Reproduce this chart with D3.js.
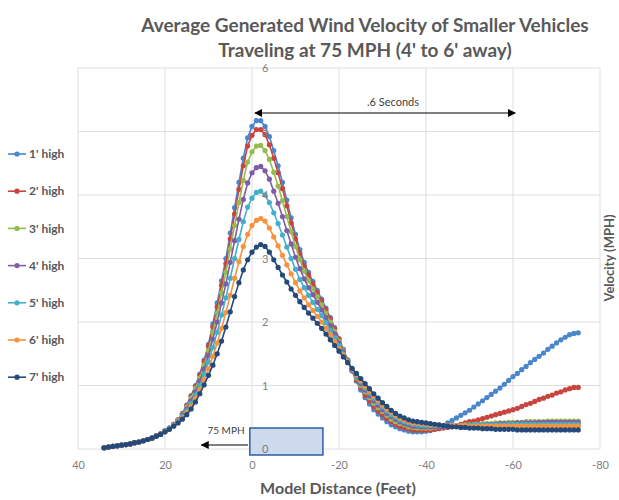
<!DOCTYPE html>
<html>
<head>
<meta charset="utf-8">
<script src="https://cdn.jsdelivr.net/npm/d3@7"></script>
<style>
  body { margin: 0; background: #fff; }
  text { font-family: Lato, "Open Sans", sans-serif; }
</style>
</head>
<body>
<div id="chart"></div>
<script>
// distance in feet (x), one reading per foot
var distances = [34,33,32,31,30,29,28,27,26,25,24,23,22,21,20,19,18,17,16,15,14,13,12,11,10,9,8,7,6,5,4,3,2,1,0,
  -1,-2,-3,-4,-5,-6,-7,-8,-9,-10,-11,-12,-13,-14,-15,-16,-17,-18,-19,-20,-21,-22,
  -23,-24,-25,-26,-27,-28,-29,-30,-31,-32,-33,-34,-35,-36,-37,-38,-39,-40,-41,-42,
  -43,-44,-45,-46,-47,-48,-49,-50,-51,-52,-53,-54,-55,-56,-57,-58,-59,-60,-61,-62,-63,-64,-65,-66,-67,-68,-69,-70,-71,-72,-73,-74,-75];

var seriesNames = ["1' high", "2' high", "3' high", "4' high", "5' high", "6' high", "7' high"];
var seriesColors = ["#4a86cc", "#c9443f", "#94bc4f", "#7e5da6", "#43afc9", "#f7923e", "#244a7c"];

var high1 = [.02,.03,.04,.05,.06,.07,.08,.10,.11,.13,.15,.17,
  .21,.24,.29,.33,.39,.46,
  .56,.69,.84,1.00,1.18,1.40,1.65,1.97,2.30,2.65,3.00,3.40,3.80,4.20,4.58,4.90,5.08,
  5.17,5.17,5.08,4.92,4.70,4.46,4.20,3.92,3.64,3.38,3.14,2.94,2.78,2.64,2.50,2.36,2.22,2.07,1.91,1.74,1.57,1.40,
  1.23,1.07,.93,.81,.71,.62,.55,.49,.43,.38,.35,.32,.30,.28,.27,.27,.27,.28,.29,.31,
  .34,.37,.41,.45,.49,.53,.57,.61,.66,.71,.76,.81,.86,.91,.96,1.02,1.08,1.14,1.19,1.25,1.30,1.36,1.41,1.46,1.51,1.57,1.62,1.67,1.72,1.76,1.80,1.82,1.83];

var high2 = [.02,.03,.04,.05,.06,.07,.08,.10,.11,.13,.15,.17,
  .21,.24,.29,.33,.39,.46,
  .55,.68,.83,.98,1.16,1.37,1.62,1.92,2.24,2.58,2.92,3.31,3.70,4.09,4.46,4.77,4.94,
  5.03,5.03,4.95,4.79,4.58,4.35,4.10,3.83,3.56,3.31,3.08,2.89,2.74,2.60,2.46,2.33,2.19,2.05,1.89,1.73,1.56,1.40,
  1.24,1.09,.97,.85,.76,.67,.60,.54,.48,.43,.39,.36,.34,.32,.30,.30,.30,.30,.30,.31,
  .32,.33,.34,.36,.37,.39,.41,.43,.44,.46,.48,.50,.52,.54,.56,.58,.60,.62,.64,.67,.70,.72,.75,.78,.80,.83,.85,.88,.90,.93,.95,.97,.97];

var high3 = [.02,.03,.04,.05,.06,.07,.08,.10,.11,.13,.15,.17,
  .21,.24,.29,.33,.38,.45,
  .54,.66,.80,.95,1.12,1.32,1.55,1.84,2.14,2.46,2.78,3.15,3.52,3.88,4.23,4.52,4.68,
  4.77,4.78,4.70,4.56,4.36,4.14,3.91,3.66,3.42,3.19,2.98,2.80,2.65,2.52,2.40,2.27,2.14,2.00,1.85,1.70,1.55,1.39,
  1.25,1.12,1.00,.90,.81,.72,.65,.59,.53,.47,.43,.40,.38,.35,.34,.33,.33,.33,.33,.34,
  .35,.35,.36,.36,.37,.37,.38,.38,.39,.39,.40,.40,.40,.41,.41,.41,.42,.42,.42,.42,.43,.43,.43,.43,.43,.44,.44,.44,.44,.44,.44,.44,.44];

var high4 = [.02,.03,.04,.05,.06,.07,.08,.10,.11,.13,.15,.17,
  .21,.24,.28,.32,.38,.44,
  .53,.63,.76,.90,1.07,1.26,1.47,1.73,2.00,2.30,2.60,2.94,3.28,3.62,3.93,4.19,4.35,
  4.43,4.45,4.38,4.25,4.06,3.87,3.66,3.44,3.23,3.02,2.84,2.68,2.54,2.43,2.31,2.19,2.07,1.94,1.81,1.67,1.53,1.39,
  1.25,1.14,1.03,.93,.84,.76,.69,.62,.56,.51,.47,.43,.40,.38,.36,.36,.35,.35,.35,.35,
  .35,.35,.36,.36,.36,.37,.37,.37,.38,.38,.38,.39,.39,.39,.40,.40,.40,.40,.41,.41,.41,.41,.41,.42,.42,.42,.42,.42,.42,.42,.42,.42,.42];

var high5 = [.02,.03,.04,.05,.06,.07,.08,.10,.11,.13,.15,.17,
  .20,.23,.28,.32,.37,.43,
  .51,.60,.72,.85,1.00,1.18,1.37,1.60,1.84,2.11,2.38,2.69,3.00,3.30,3.58,3.81,3.95,
  4.04,4.06,4.00,3.88,3.72,3.55,3.37,3.18,3.00,2.83,2.67,2.54,2.42,2.31,2.20,2.10,1.99,1.87,1.75,1.63,1.50,1.38,
  1.26,1.15,1.06,.96,.88,.80,.73,.66,.60,.54,.50,.46,.43,.41,.39,.38,.37,.37,.37,.37,
  .37,.37,.37,.37,.37,.37,.37,.38,.38,.38,.38,.38,.38,.38,.38,.38,.39,.39,.39,.39,.39,.39,.39,.39,.39,.39,.39,.39,.39,.39,.39,.39,.39];

var high6 = [.02,.03,.04,.05,.06,.07,.08,.10,.11,.13,.15,.17,
  .20,.23,.27,.31,.37,.42,
  .49,.57,.67,.79,.93,1.09,1.26,1.46,1.67,1.90,2.15,2.42,2.69,2.95,3.19,3.38,3.52,
  3.60,3.63,3.59,3.48,3.34,3.20,3.05,2.90,2.76,2.62,2.49,2.38,2.27,2.18,2.09,2.00,1.90,1.80,1.69,1.58,1.48,1.37,
  1.26,1.17,1.08,.99,.91,.83,.76,.69,.63,.58,.53,.49,.46,.43,.41,.41,.40,.39,.38,.38,
  .38,.37,.37,.37,.37,.37,.37,.36,.36,.36,.36,.36,.36,.36,.36,.36,.36,.36,.36,.36,.36,.36,.36,.36,.36,.36,.36,.36,.36,.36,.36,.36,.36];

var high7 = [.02,.03,.04,.05,.06,.07,.08,.10,.11,.13,.15,.17,
  .20,.23,.27,.31,.36,.41,
  .47,.54,.63,.74,.87,1.01,1.16,1.32,1.50,1.70,1.92,2.16,2.40,2.62,2.82,2.98,3.10,
  3.18,3.22,3.19,3.10,2.98,2.86,2.74,2.63,2.52,2.42,2.32,2.23,2.14,2.06,1.98,1.90,1.81,1.72,1.63,1.54,1.45,1.36,
  1.27,1.19,1.11,1.03,.95,.87,.80,.73,.67,.61,.56,.52,.49,.46,.44,.43,.42,.41,.40,.39,
  .38,.37,.36,.35,.35,.34,.34,.33,.33,.33,.32,.32,.32,.31,.31,.31,.31,.31,.30,.30,.30,.30,.30,.30,.30,.30,.30,.30,.30,.30,.30,.30,.30];

var xTicks = [40, 20, 0, -20, -40, -60, -80];
var yTicks = [0, 1, 2, 3, 4, 5, 6];

// svg container
var svgWidth = 619;
var svgHeight = 500;

var svg = d3.select("#chart")
  .append("svg")
  .attr("width", svgWidth)
  .attr("height", svgHeight);

// x axis runs backwards: 40 on the left, -80 on the right
var xScale = d3.scaleLinear().domain([40, -80]).range([78, 600]);
var yScale = d3.scaleLinear().domain([0, 6]).range([449, 68]);

// gridlines
svg.append("g").selectAll("line.h")
  .data(yTicks)
  .enter().append("line")
  .attr("x1", xScale(40)).attr("x2", xScale(-80))
  .attr("y1", d => yScale(d)).attr("y2", d => yScale(d))
  .attr("stroke", "#dedede").attr("stroke-width", 1);

svg.append("g").selectAll("line.v")
  .data(xTicks)
  .enter().append("line")
  .attr("x1", d => xScale(d)).attr("x2", d => xScale(d))
  .attr("y1", yScale(0)).attr("y2", yScale(6))
  .attr("stroke", "#dedede").attr("stroke-width", 1);

// 75 MPH box (vehicle) sitting on the x axis
svg.append("rect")
  .attr("x", xScale(0.5))
  .attr("y", yScale(0) - 21)
  .attr("width", xScale(-16.3) - xScale(0.5))
  .attr("height", 27)
  .attr("fill", "#cdd9ec")
  .attr("stroke", "#2f5d9e")
  .attr("stroke-width", 1.5);

// arrow markers
var defs = svg.append("defs");
defs.append("marker")
  .attr("id", "head")
  .attr("viewBox", "0 0 10 10")
  .attr("refX", 9).attr("refY", 5)
  .attr("markerWidth", 8).attr("markerHeight", 8)
  .attr("markerUnits", "userSpaceOnUse")
  .attr("orient", "auto-start-reverse")
  .append("path")
  .attr("d", "M0,0 L10,5 L0,10 Z")
  .attr("fill", "#000");

// .6 seconds arrow
svg.append("line")
  .attr("x1", xScale(-0.7)).attr("x2", xScale(-60.5))
  .attr("y1", 113).attr("y2", 113)
  .attr("stroke", "#000").attr("stroke-width", 1.2)
  .attr("marker-start", "url(#head)")
  .attr("marker-end", "url(#head)");

svg.append("text")
  .attr("x", 393).attr("y", 106)
  .attr("text-anchor", "middle")
  .attr("font-size", "11px")
  .attr("fill", "#404040")
  .text(".6 Seconds");

// 75 MPH arrow
svg.append("line")
  .attr("x1", xScale(0.9)).attr("x2", xScale(11.6))
  .attr("y1", 445).attr("y2", 445)
  .attr("stroke", "#000").attr("stroke-width", 1.2)
  .attr("marker-end", "url(#head)");

svg.append("text")
  .attr("x", 226).attr("y", 434)
  .attr("text-anchor", "middle")
  .attr("font-size", "10px")
  .attr("fill", "#404040")
  .text("75 MPH");

// axes
var xAxis = d3.axisBottom(xScale)
  .tickValues(xTicks)
  .tickSize(0)
  .tickPadding(12)
  .tickFormat(d => String(d));

svg.append("g")
  .attr("transform", `translate(0, ${yScale(0)})`)
  .call(xAxis)
  .call(g => g.select(".domain").remove())
  .selectAll("text")
  .attr("font-family", "Lato, sans-serif")
  .attr("font-size", "11px")
  .attr("fill", "#808080");

var yAxis = d3.axisRight(yScale)
  .tickValues(yTicks)
  .tickSize(0)
  .tickPadding(10)
  .tickFormat(d => String(d));

// series lines and markers
var seriesData = [high1, high2, high3, high4, high5, high6, high7];

var line = d3.line()
  .x((d, i) => xScale(distances[i]))
  .y(d => yScale(d));

seriesData.forEach(function(values, k) {
  var g = svg.append("g");
  g.append("path")
    .datum(values)
    .attr("d", line)
    .attr("fill", "none")
    .attr("stroke", seriesColors[k])
    .attr("stroke-width", 1.6);
  g.selectAll("circle")
    .data(values)
    .enter().append("circle")
    .attr("cx", (d, i) => xScale(distances[i]))
    .attr("cy", d => yScale(d))
    .attr("r", 2.6)
    .attr("fill", seriesColors[k]);
});

svg.append("g")
  .attr("transform", `translate(${xScale(0)}, 0)`)
  .call(yAxis)
  .call(g => g.select(".domain").remove())
  .selectAll("text")
  .attr("font-family", "Lato, sans-serif")
  .attr("font-size", "11px")
  .attr("fill", "#808080");

// legend
var legend = svg.append("g").selectAll("g")
  .data(seriesNames)
  .enter().append("g")
  .attr("transform", (d, i) => `translate(0, ${154 + i * 37.2})`);

legend.append("line")
  .attr("x1", 8).attr("x2", 26)
  .attr("stroke", (d, i) => seriesColors[i])
  .attr("stroke-width", 1.6);

legend.append("circle")
  .attr("cx", 17).attr("r", 2.6)
  .attr("fill", (d, i) => seriesColors[i]);

legend.append("text")
  .attr("x", 29).attr("dy", "0.35em")
  .attr("font-size", "12px")
  .attr("font-weight", "bold")
  .attr("fill", "#595959")
  .text(d => d);

// titles
svg.append("text")
  .attr("x", 365).attr("y", 32)
  .attr("text-anchor", "middle")
  .attr("font-size", "19px")
  .attr("font-weight", "bold")
  .attr("fill", "#595959")
  .text("Average Generated Wind Velocity of Smaller Vehicles");

svg.append("text")
  .attr("x", 365).attr("y", 57)
  .attr("text-anchor", "middle")
  .attr("font-size", "19px")
  .attr("font-weight", "bold")
  .attr("fill", "#595959")
  .text("Traveling at 75 MPH (4' to 6' away)");

svg.append("text")
  .attr("x", 338).attr("y", 494)
  .attr("text-anchor", "middle")
  .attr("font-size", "16px")
  .attr("font-weight", "bold")
  .attr("fill", "#595959")
  .text("Model Distance (Feet)");

svg.append("text")
  .attr("transform", "translate(609, 258) rotate(-90)")
  .attr("text-anchor", "middle")
  .attr("dy", "0.35em")
  .attr("font-size", "13px")
  .attr("font-weight", "bold")
  .attr("fill", "#595959")
  .text("Velocity (MPH)");
</script>
</body>
</html>
